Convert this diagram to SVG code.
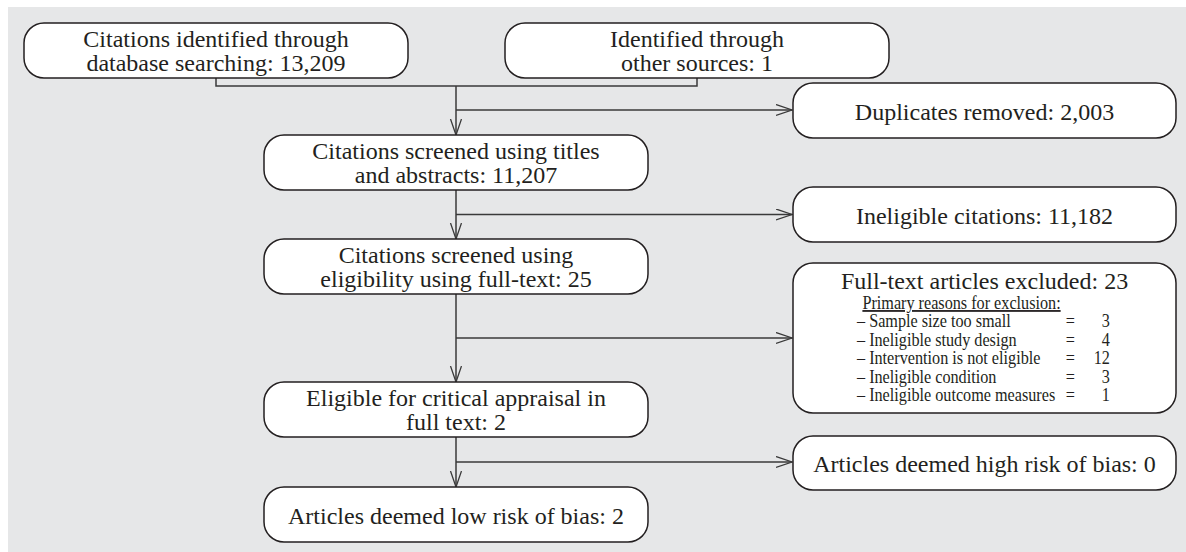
<svg xmlns="http://www.w3.org/2000/svg" width="1186" height="552" viewBox="0 0 1186 552">
<style>
.box{fill:#fff;stroke:#231f20;stroke-width:1.5}
.t{font-family:"Liberation Serif","Times New Roman",serif;font-size:24px;fill:#231f20;text-anchor:middle}
.s{font-family:"Liberation Serif","Times New Roman",serif;font-size:18px;fill:#231f20}
.c{fill:none;stroke:#3a3a3a;stroke-width:1.5}
</style>
<defs>
<marker id="ah" markerUnits="userSpaceOnUse" markerWidth="18" markerHeight="13" refX="16" refY="6" orient="auto">
<path d="M0,0.5 L16,6 L0,11.5" fill="none" stroke="#3a3a3a" stroke-width="1.3"/>
</marker>
</defs>
<rect x="8" y="7" width="1178" height="545" fill="#e6e7e8"/>
<g id="connectors">
<path class="c" d="M216,78 V86 H697 V78"/>
<path class="c" d="M456,86 V135" marker-end="url(#ah)"/>
<path class="c" d="M456,110 H792" marker-end="url(#ah)"/>
<path class="c" d="M456,190 V239" marker-end="url(#ah)"/>
<path class="c" d="M456,214.5 H792" marker-end="url(#ah)"/>
<path class="c" d="M456,294 V382" marker-end="url(#ah)"/>
<path class="c" d="M456,338 H792" marker-end="url(#ah)"/>
<path class="c" d="M456,437 V487" marker-end="url(#ah)"/>
<path class="c" d="M456,462 H792" marker-end="url(#ah)"/>
</g>
<g id="n1"><rect class="box" x="24" y="23" width="384" height="55" rx="20"/>
<text class="t" x="216" y="47">Citations identified through</text>
<text class="t" x="216" y="71">database searching: 13,209</text></g>
<g id="n2"><rect class="box" x="505" y="23" width="384" height="55" rx="20"/>
<text class="t" x="697" y="47">Identified through</text>
<text class="t" x="697" y="71">other sources: 1</text></g>
<g id="n3"><rect class="box" x="264" y="135" width="384" height="55" rx="20"/>
<text class="t" x="456" y="159">Citations screened using titles</text>
<text class="t" x="456" y="183">and abstracts: 11,207</text></g>
<g id="n4"><rect class="box" x="264" y="239" width="384" height="55" rx="20"/>
<text class="t" x="456" y="263">Citations screened using</text>
<text class="t" x="456" y="287">eligibility using full-text: 25</text></g>
<g id="n5"><rect class="box" x="264" y="382" width="384" height="55" rx="20"/>
<text class="t" x="456" y="406">Eligible for critical appraisal in</text>
<text class="t" x="456" y="430">full text: 2</text></g>
<g id="n6"><rect class="box" x="264" y="487" width="384" height="55" rx="20"/>
<text class="t" x="456" y="524">Articles deemed low risk of bias: 2</text></g>
<g id="r1"><rect class="box" x="793" y="83" width="383" height="55" rx="20"/>
<text class="t" x="984.5" y="119.5">Duplicates removed: 2,003</text></g>
<g id="r2"><rect class="box" x="793" y="187" width="383" height="55" rx="20"/>
<text class="t" x="984.5" y="223.5">Ineligible citations: 11,182</text></g>
<g id="r3"><rect class="box" x="793" y="263" width="383" height="150" rx="20"/>
<text class="t" x="984.5" y="289">Full-text articles excluded: 23</text>
<g transform="translate(857 0) scale(0.9 1)">
<text class="s" x="6" y="309" text-decoration="underline">Primary reasons for exclusion:</text>
<text class="s" x="0" y="327.5">– Sample size too small</text>
<text class="s" x="0" y="346">– Ineligible study design</text>
<text class="s" x="0" y="364.5">– Intervention is not eligible</text>
<text class="s" x="0" y="383">– Ineligible condition</text>
<text class="s" x="0" y="401.5">– Ineligible outcome measures</text>
<text class="s" x="232" y="327.5">=</text><text class="s" x="281" y="327.5" text-anchor="end">3</text>
<text class="s" x="232" y="346">=</text><text class="s" x="281" y="346" text-anchor="end">4</text>
<text class="s" x="232" y="364.5">=</text><text class="s" x="281" y="364.5" text-anchor="end">12</text>
<text class="s" x="232" y="383">=</text><text class="s" x="281" y="383" text-anchor="end">3</text>
<text class="s" x="232" y="401.5">=</text><text class="s" x="281" y="401.5" text-anchor="end">1</text>
</g></g>
<g id="r4"><rect class="box" x="793" y="436" width="383" height="54" rx="20"/>
<text class="t" x="984.5" y="472">Articles deemed high risk of bias: 0</text></g>
</svg>
